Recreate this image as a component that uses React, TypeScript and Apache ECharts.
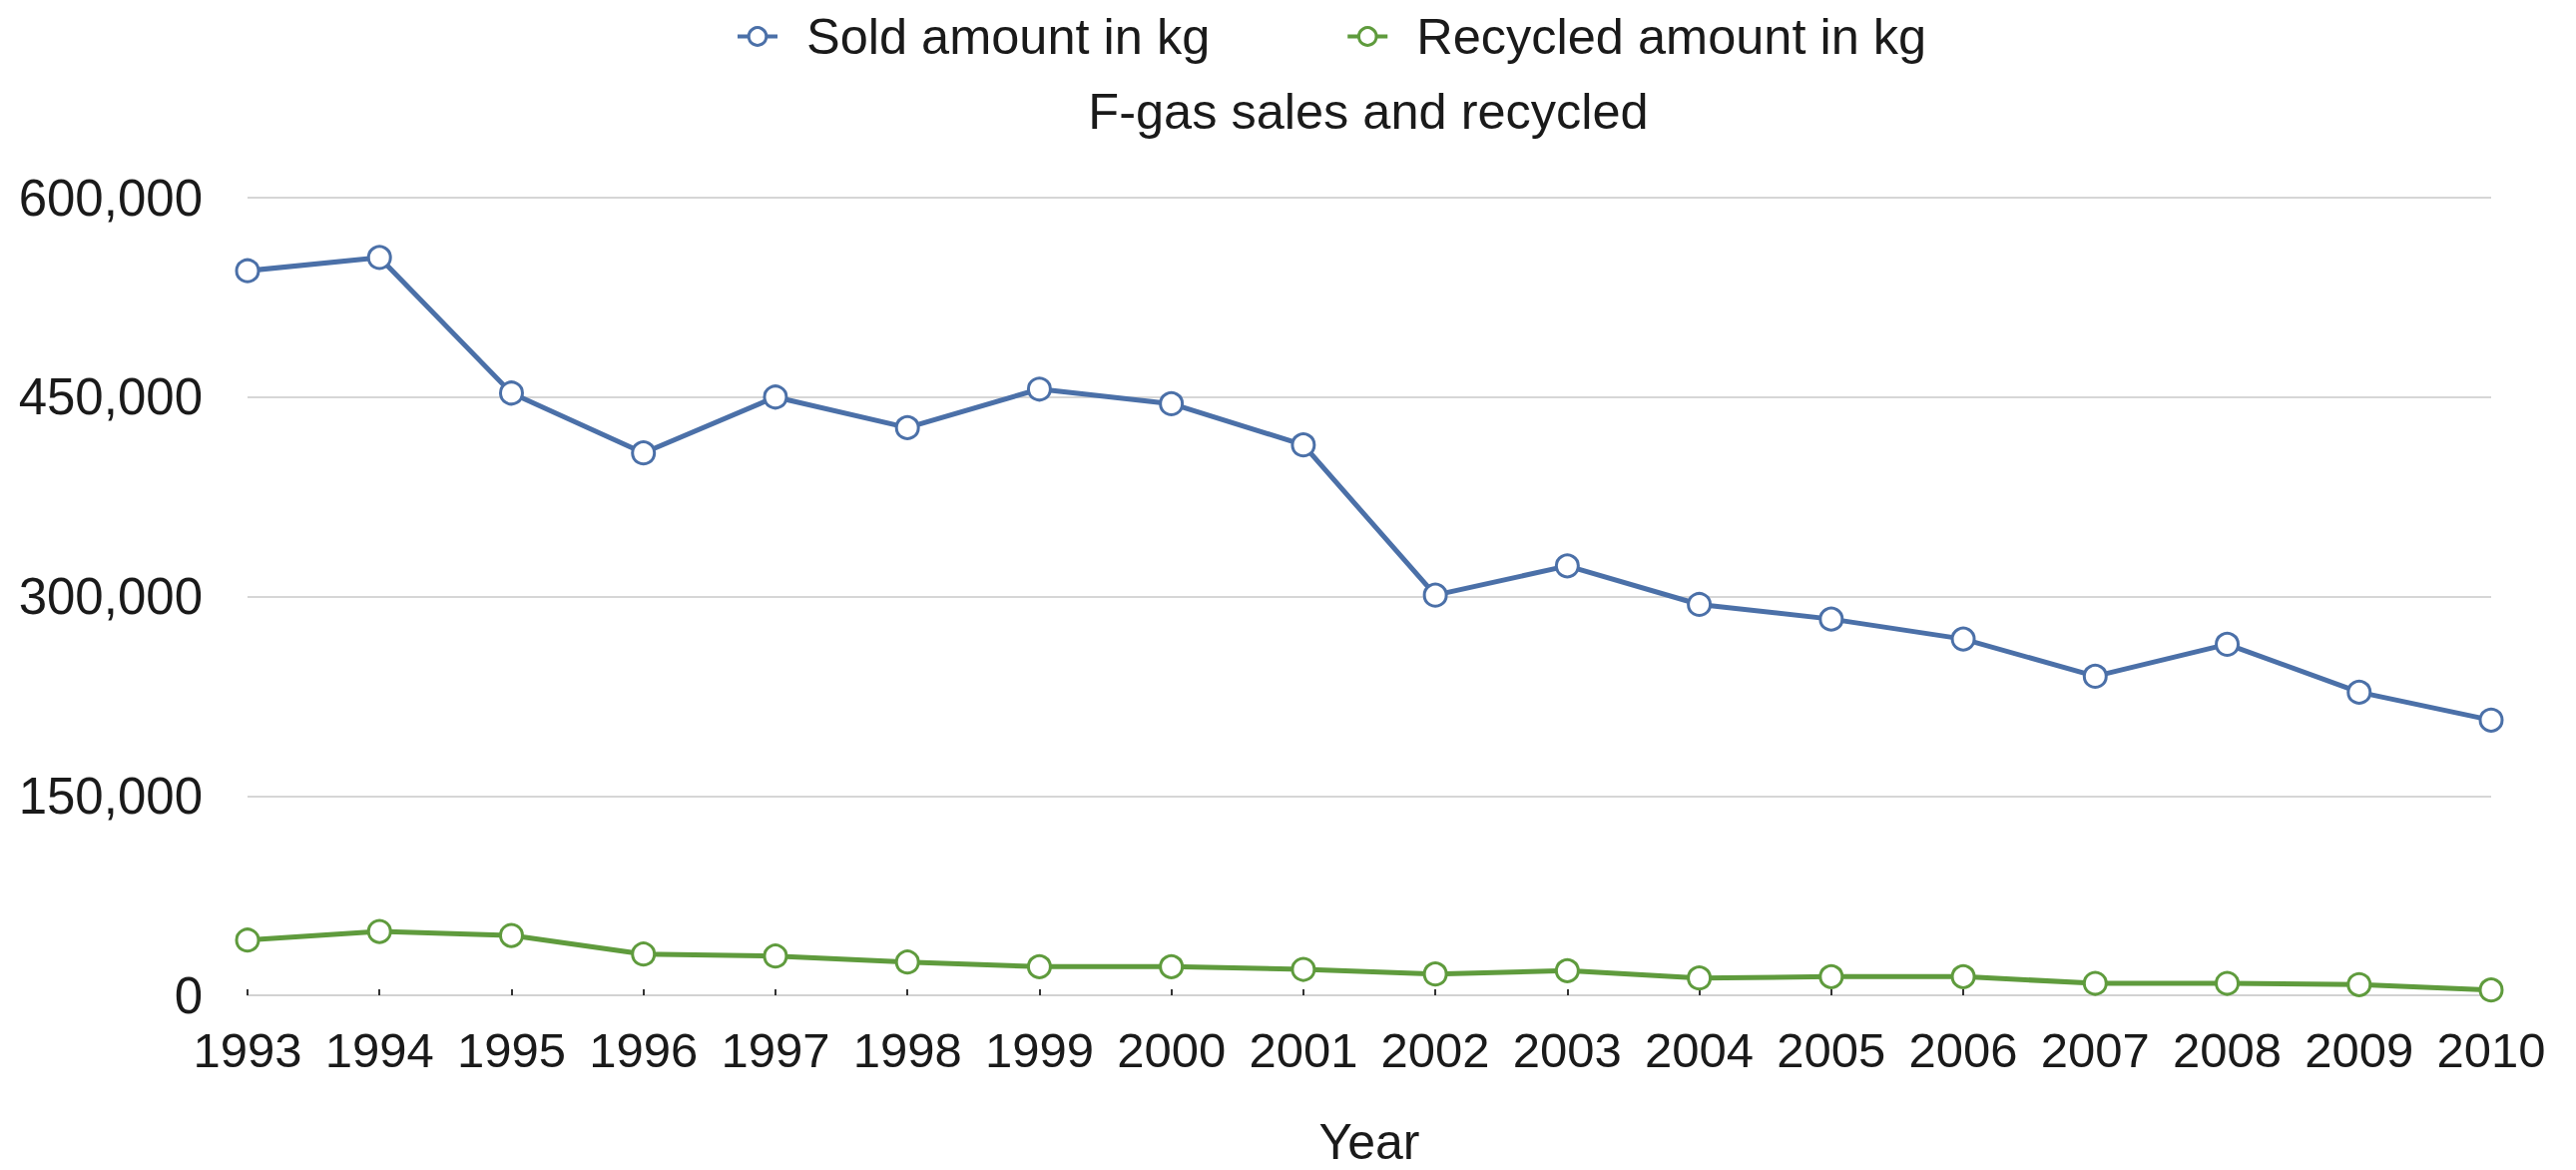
import React, { useEffect, useRef } from "react";
import * as echarts from "echarts";

// Years on the category axis
const years = [
  "1993", "1994", "1995", "1996", "1997", "1998", "1999", "2000", "2001",
  "2002", "2003", "2004", "2005", "2006", "2007", "2008", "2009", "2010",
];

// Sold F-gas, kg
const soldKg = [
  545000, 555000, 453000, 408000, 450000, 427000, 456000, 445000, 414000,
  301000, 323000, 294000, 283000, 268000, 240000, 264000, 228000, 207000,
];

// Recycled F-gas, kg
const recycledKg = [
  41500, 48000, 45000, 31000, 29500, 25000, 21500, 21500, 19500,
  16000, 18500, 13000, 14000, 14000, 9000, 9000, 8000, 4000,
];

const seriesNames = ["Sold amount in kg", "Recycled amount in kg"];
const chartTitle = "F-gas sales and recycled";
const xAxisName = "Year";

const FONT = "'Liberation Sans', Arial, Helvetica, sans-serif";
const TEXT = "#1a1a1a";
const BLUE = "#4b70a8";
const GREEN = "#5f9b3d";

export default function App() {
  const ref = useRef<HTMLDivElement>(null);

  useEffect(() => {
    if (!ref.current) return;
    const chart = echarts.init(ref.current, null, { renderer: "svg" });

    const lineSeries = (name: string, data: number[], color: string) => ({
      name,
      type: "line",
      data,
      symbol: "circle",
      symbolSize: 22,
      showAllSymbol: true,
      lineStyle: { color, width: 5 },
      itemStyle: { color: "#ffffff", borderColor: color, borderWidth: 3 },
      emphasis: { disabled: true },
    });

    chart.setOption({
      animation: false,
      backgroundColor: "#ffffff",
      textStyle: { fontFamily: FONT, color: TEXT },
      title: {
        text: chartTitle,
        left: 1371,
        textAlign: "center",
        top: 86,
        padding: 0,
        textStyle: { fontFamily: FONT, fontSize: 50.5, fontWeight: "normal", color: TEXT },
      },
      legend: {
        data: seriesNames.map((n, i) => ({
          name: n,
          itemStyle: { color: "#ffffff", borderColor: i === 0 ? BLUE : GREEN, borderWidth: 3 },
          lineStyle: { color: i === 0 ? BLUE : GREEN, width: 4 },
        })),
        left: 737,
        top: 11,
        padding: 0,
        itemWidth: 40,
        itemHeight: 22,
        itemGap: 136,
        textStyle: { fontFamily: FONT, fontSize: 50.5, color: TEXT, padding: [0, 0, 0, 24] },
      },
      grid: {
        left: 248,
        right: 85,
        top: 198,
        bottom: 175,
        containLabel: false,
        outerBoundsMode: "none",
      },
      xAxis: {
        type: "category",
        data: years,
        boundaryGap: false,
        name: xAxisName,
        nameLocation: "middle",
        nameGap: 122,
        nameTextStyle: { fontFamily: FONT, fontSize: 50, color: TEXT },
        axisLine: { lineStyle: { color: "#d2d2d2", width: 2 } },
        axisTick: {
          show: true,
          inside: true,
          length: 6,
          alignWithLabel: true,
          lineStyle: { color: "#333333", width: 2 },
        },
        axisLabel: { fontFamily: FONT, fontSize: 49, color: TEXT, margin: 30, interval: 0 },
        splitLine: { show: false },
      },
      yAxis: {
        type: "value",
        min: 0,
        max: 600000,
        interval: 150000,
        axisLine: { show: false },
        axisTick: { show: false },
        axisLabel: {
          fontFamily: FONT,
          fontSize: 51,
          color: TEXT,
          margin: 45,
          formatter: (v: number) => v.toLocaleString("en-US"),
        },
        splitLine: { lineStyle: { color: "#d6d6d6", width: 2 } },
      },
      series: [
        lineSeries(seriesNames[0], soldKg, BLUE),
        lineSeries(seriesNames[1], recycledKg, GREEN),
      ],
    });

    return () => chart.dispose();
  }, []);

  return (
    <div
      ref={ref}
      style={{ position: "fixed", left: 0, top: 0, width: 2581, height: 1172, background: "#fff" }}
    />
  );
}
